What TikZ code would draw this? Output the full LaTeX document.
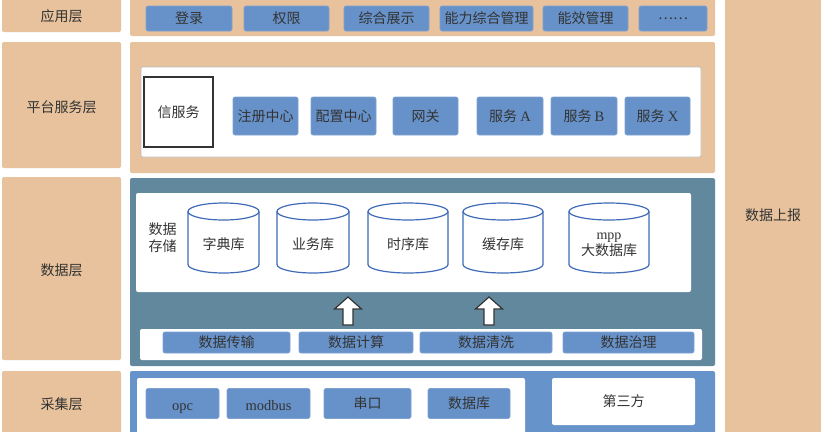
\documentclass[tikz,border=0pt]{standalone}
\usepackage{fontspec}
\setmainfont{Liberation Serif}
\newfontfamily\cjk{Noto Sans CJK SC}
\definecolor{tan}{HTML}{E7C29C}
\definecolor{btnblue}{HTML}{6792C9}
\definecolor{datalayer}{HTML}{62889E}
\definecolor{collayer}{HTML}{6793CB}
\definecolor{txt}{HTML}{333333}
\definecolor{cylblue}{HTML}{3F6BB8}
\newcommand\lat[1]{{\rmfamily\fontsize{14.5}{16}\selectfont #1}\vphantom{串}}
\newcommand\dbcyl[6]{%
  % #1 center x, #2 half width, #3 top, #4 bottom, #5 name, #6 text
  \fill[white] (#1-#2,#3+8.5) rectangle (#1+#2,#4-8.5);
  \fill[white] (#1,#4-8.5) ellipse[x radius=#2, y radius=8.5];
  \draw[cyl] (#1-#2,#3+8.5) -- (#1-#2,#4-8.5) arc[start angle=180,end angle=0,x radius=#2,y radius=8.5] -- (#1+#2,#3+8.5);
  \draw[cyl,fill=white] (#1,#3+8.5) ellipse[x radius=#2, y radius=8.5];
  \node[lbl] (#5) at (#1,244) {#6};
}
\begin{document}
\begin{tikzpicture}[x=1pt,y=-1pt,
  lbl/.style={text=txt, font=\fontsize{14}{17}\selectfont\cjk, inner sep=0pt, align=center},
  btn/.style={lbl, fill=btnblue, draw=btnblue!85!white, line width=0.6pt, rounded corners=2pt},
  latbtn/.style={btn, text height=13pt, text depth=0pt},
  cyl/.style={draw=cylblue, line width=1.2pt},
  uparrow/.style={fill=white, draw=black!80, line width=1.2pt, line join=miter}]
\useasboundingbox (0,0) rectangle (821,431);
\fill[white] (0,0) rectangle (821,431);
% left label column
\fill[tan, rounded corners=2pt] (2,-5) rectangle (121,32);
\fill[tan, rounded corners=2pt] (2,42) rectangle (121,168);
\fill[tan, rounded corners=2pt] (2,177) rectangle (121,360);
\fill[tan, rounded corners=2pt] (2,371) rectangle (121,440);
\node[lbl] (lapp) at (61.5,16) {应用层};
\node[lbl] (lplat) at (61.5,107) {平台服务层};
\node[lbl] (ldata) at (61.5,270) {数据层};
\node[lbl] (lcol) at (61.5,404) {采集层};
% right column
\fill[tan] (725,-5) rectangle (830,440);
\node[lbl] (report) at (773,215) {数据上报};
% application layer
\fill[tan, rounded corners=2pt] (130,-5) rectangle (715,36);
\node[btn, minimum width=86pt, minimum height=25pt] (b1) at (189,18.5) {登录};
\node[btn, minimum width=85pt, minimum height=25pt] (b2) at (286.5,18.5) {权限};
\node[btn, minimum width=85pt, minimum height=25pt] (b3) at (386.5,18.5) {综合展示};
\node[btn, minimum width=93pt, minimum height=25pt] (b4) at (486.5,18.5) {能力综合管理};
\node[btn, minimum width=85pt, minimum height=25pt] (b5) at (585.5,18.5) {能效管理};
\node[btn, minimum width=68pt, minimum height=25pt] (b6) at (673,18.5) {……};
% platform layer
\fill[tan, rounded corners=2pt] (130,42) rectangle (715,173);
\draw[fill=white, draw=black!25, line width=0.6pt, rounded corners=2pt] (141,67) rectangle (701,157);
\node[lbl, draw=black!80, line width=1.2pt, fill=white, minimum width=69pt, minimum height=70pt] (xin) at (178.5,112) {信服务};
\node[btn, minimum width=65pt, minimum height=38pt] (p1) at (265.5,116) {注册中心};
\node[btn, minimum width=65pt, minimum height=38pt] (p2) at (343.5,116) {配置中心};
\node[btn, minimum width=65pt, minimum height=38pt] (p3) at (425.5,116) {网关};
\node[btn, minimum width=66pt, minimum height=38pt] (p4) at (510,116) {服务 \lat{A}};
\node[btn, minimum width=66pt, minimum height=38pt] (p5) at (584,116) {服务 \lat{B}};
\node[btn, minimum width=65pt, minimum height=38pt] (p6) at (657.5,116) {服务 \lat{X}};
% data layer
\fill[datalayer, rounded corners=2pt] (130,178) rectangle (715,366);
\fill[white, rounded corners=2pt] (136,193) rectangle (691,292);
\node[lbl, font=\fontsize{14}{17}\selectfont\cjk] (store) at (162.5,237.5) {数据\\存储};
\dbcyl{223.5}{35.5}{203}{273}{c1}{字典库}
\dbcyl{313}{36}{203}{273}{c2}{业务库}
\dbcyl{408}{40}{203}{273}{c3}{时序库}
\dbcyl{503}{40}{203}{273}{c4}{缓存库}
\fill[white] (569,211.5) rectangle (649,264.5);
\draw[cyl] (569,211.5) -- (569,264.5) arc[start angle=180,end angle=0,x radius=40,y radius=8.5] -- (649,211.5);
\draw[cyl,fill=white] (609,211.5) ellipse[x radius=40, y radius=8.5];
\node[lbl, font=\fontsize{14}{16}\selectfont\cjk] (c5) at (609,245) {{\rmfamily\fontsize{14}{13}\selectfont mpp}\\大数据库};
\draw[uparrow] (343,325) -- (343,309) -- (334.5,309) -- (348,297) -- (361.5,309) -- (353,309) -- (353,325) -- cycle;
\draw[uparrow] (484,325) -- (484,309) -- (475.5,309) -- (489,297) -- (502.5,309) -- (494,309) -- (494,325) -- cycle;
\fill[white, rounded corners=2pt] (140,329) rectangle (702,360);
\node[btn, minimum width=127pt, minimum height=21pt] (d1) at (226.5,342.5) {数据传输};
\node[btn, minimum width=114pt, minimum height=21pt] (d2) at (356,342.5) {数据计算};
\node[btn, minimum width=132pt, minimum height=21pt] (d3) at (486,342.5) {数据清洗};
\node[btn, minimum width=131pt, minimum height=21pt] (d4) at (628.5,342.5) {数据治理};
% collection layer
\fill[collayer, rounded corners=2pt] (130,371) rectangle (715,440);
\fill[white, rounded corners=2pt] (137,378) rectangle (525,440);
\node[latbtn, minimum width=73pt, minimum height=30pt] (k1) at (182.5,403.5) {{\rmfamily\fontsize{14.5}{16}\selectfont opc}};
\node[latbtn, minimum width=83pt, minimum height=30pt] (k2) at (268.5,403.5) {{\rmfamily\fontsize{14.5}{16}\selectfont modbus}};
\node[btn, minimum width=87pt, minimum height=30pt] (k3) at (367.5,403.5) {串口};
\node[btn, minimum width=82pt, minimum height=30pt] (k4) at (469,403.5) {数据库};
\node[lbl, fill=white, rounded corners=2pt, minimum width=143pt, minimum height=47pt] (third) at (623.5,401.5) {第三方};
\end{tikzpicture}
\end{document}
